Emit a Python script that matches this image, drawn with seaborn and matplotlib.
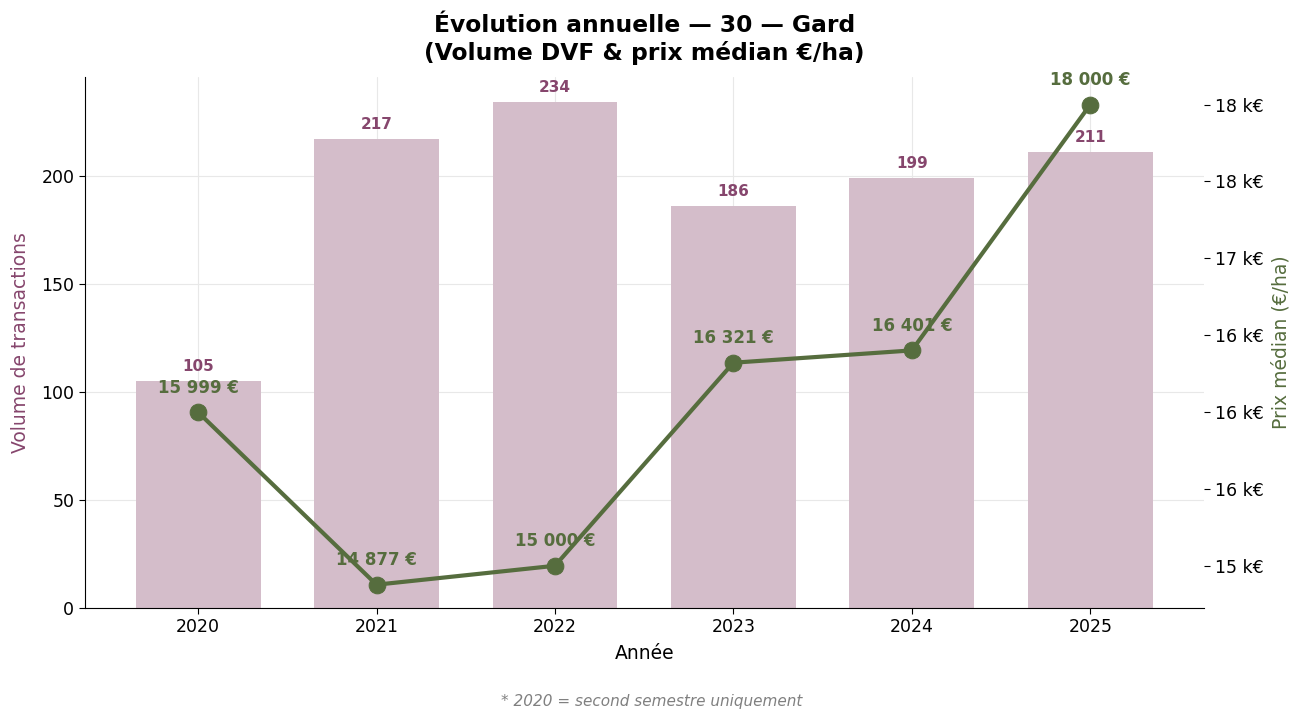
import matplotlib
matplotlib.use("Agg")
import matplotlib.pyplot as plt
from matplotlib.ticker import FuncFormatter
import seaborn as sns
import pandas as pd

# --- données ---
annees = ["2020", "2021", "2022", "2023", "2024", "2025"]
volumes = [105, 217, 234, 186, 199, 211]
prix_median = [15999, 14877, 15000, 16321, 16401, 18000]

COL_BAR = "#d4bdca"
COL_VOL = "#86466d"
COL_PRIX = "#566d3e"


def fmt_eur(v):
    return f"{v:,.0f} €".replace(",", " ")


def main():
    sns.set_style("white")
    plt.rcParams["font.family"] = ["DejaVu Sans"]
    plt.rcParams.update({
        "text.color": "black",
        "axes.labelcolor": "black",
        "xtick.color": "black",
        "ytick.color": "black",
    })

    df = pd.DataFrame({"annee": annees, "volume": volumes, "prix": prix_median})
    df["pos"] = range(len(df))

    fig, ax = plt.subplots(figsize=(13.04, 7.19), dpi=100)
    sns.barplot(data=df, x="annee", y="volume", color=COL_BAR, width=0.7,
                saturation=1, linewidth=0, ax=ax)
    ax.set_ylim(0, max(volumes) * 1.05)
    ax.grid(True, color="#e8e8e8", linewidth=0.8)
    for i, v in enumerate(volumes):
        ax.annotate(str(v), (i, v), xytext=(0, 5), textcoords="offset points",
                    ha="center", va="bottom", fontsize=11, fontweight="bold",
                    color=COL_VOL)
    ax.set_xlabel("Année", fontsize=13.5, labelpad=6)
    ax.set_ylabel("Volume de transactions", fontsize=13.5, color=COL_VOL, labelpad=8)
    ax.tick_params(axis="both", labelsize=12.5, length=4, left=True, bottom=True)
    for s in ("top", "right"):
        ax.spines[s].set_visible(False)
    for s in ("left", "bottom"):
        ax.spines[s].set_color("black")

    ax2 = ax.twinx()
    sns.lineplot(data=df, x="pos", y="prix", color=COL_PRIX, linewidth=3,
                 marker="o", markersize=12, markeredgecolor=COL_PRIX, ax=ax2)
    ax2.set_ylim(min(prix_median) * 0.99, max(prix_median) * 1.01)
    ax2.yaxis.set_major_formatter(FuncFormatter(lambda x, _: f"{x / 1000:.0f} k€"))
    ax2.set_ylabel("Prix médian (€/ha)", fontsize=13.5, color=COL_PRIX, labelpad=6)
    ax2.tick_params(axis="y", labelsize=12.5, length=4, right=True, pad=4)
    ax2.grid(False)
    for s in ("top", "right", "left", "bottom"):
        ax2.spines[s].set_visible(False)
    for i, p in enumerate(prix_median):
        ax2.annotate(fmt_eur(p), (i, p), xytext=(0, 11), textcoords="offset points",
                     ha="center", va="bottom", fontsize=12, fontweight="bold",
                     color=COL_PRIX)
    ax2.set_xlabel("")

    ax.set_title("Évolution annuelle — 30 — Gard\n(Volume DVF & prix médian €/ha)",
                 fontsize=16.8, fontweight="bold", pad=12)
    fig.text(0.5, 0.018, "* 2020 = second semestre uniquement", ha="center",
             fontsize=11, style="italic", color="gray")

    fig.subplots_adjust(left=0.065, right=0.923, top=0.893, bottom=0.155)
    fig.savefig("out.png", dpi=100)
    plt.close(fig)


if __name__ == "__main__":
    main()
